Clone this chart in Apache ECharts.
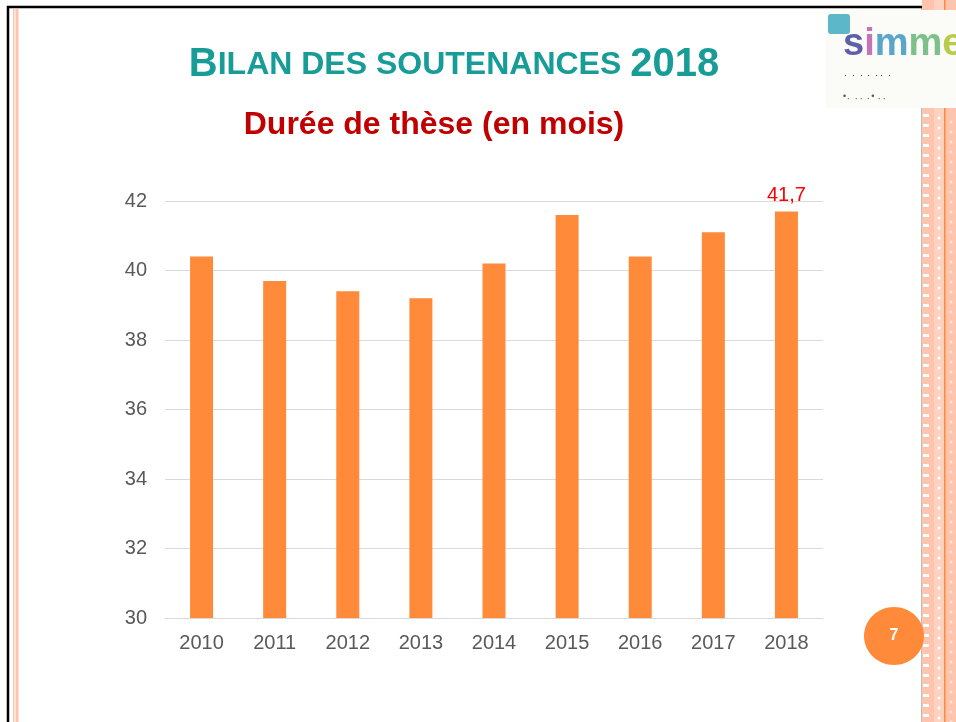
<!DOCTYPE html>
<html>
<head>
<meta charset="utf-8">
<script src="https://cdn.jsdelivr.net/npm/echarts@6/dist/echarts.min.js"></script>
<style>
  html, body { margin: 0; padding: 0; background: #fff; }
  #main { width: 956px; height: 722px; }
</style>
</head>
<body>
<div id="main"></div>
<script>
// données
var years = ['2010', '2011', '2012', '2013', '2014', '2015', '2016', '2017', '2018'];
var dureeMois = [40.4, 39.7, 39.4, 39.2, 40.2, 41.6, 40.4, 41.1, 41.7];
var yTicks = [30, 32, 34, 36, 38, 40, 42];

var chart = echarts.init(document.getElementById('main'));

// bande décorative à droite (pointillés)
var deco = [];
for (var y = 114; y < 722; y += 10) {
  deco.push({ type: 'rect', shape: { x: 923, y: y, width: 6, height: 3 }, style: { fill: '#fff' }, silent: true });
  deco.push({ type: 'circle', shape: { cx: 939, cy: y + 4, r: 1.5 }, style: { fill: '#fff' }, silent: true });
  deco.push({ type: 'circle', shape: { cx: 951, cy: y + 8, r: 1.5 }, style: { fill: '#ffe6d9' }, silent: true });
}

var option = {
  animation: false,
  backgroundColor: '#fff',
  title: [
    {
      text: '{b|B}{s|ILAN DES SOUTENANCES }{b|2018}',
      left: 449, top: 40, textAlign: 'center',
      textStyle: {
        rich: {
          b: { fontFamily: 'Liberation Sans', fontWeight: 'bold', fontSize: 40, color: '#179c97' },
          s: { fontFamily: 'Liberation Sans', fontWeight: 'bold', fontSize: 32, color: '#179c97' }
        }
      }
    },
    {
      text: 'Durée de thèse (en mois)',
      left: 429, top: 104, textAlign: 'center',
      textStyle: { fontFamily: 'Liberation Sans', fontWeight: 'bold', fontSize: 32, color: '#c00000' }
    }
  ],
  grid: { left: 165, right: 133, top: 201, bottom: 104, containLabel: false },
  xAxis: {
    type: 'category',
    data: years,
    axisLine: { lineStyle: { color: '#d9d9d9', width: 1 } },
    axisTick: { show: false },
    axisLabel: { color: '#595959', fontSize: 20, fontFamily: 'Liberation Sans', margin: 15 }
  },
  yAxis: {
    type: 'value',
    min: yTicks[0], max: yTicks[yTicks.length - 1], interval: 2,
    axisLine: { show: false },
    axisTick: { show: false },
    splitLine: { lineStyle: { color: '#d9d9d9' } },
    axisLabel: { color: '#595959', fontSize: 20, fontFamily: 'Liberation Sans', margin: 18 }
  },
  series: [{
    type: 'bar',
    data: dureeMois.map(function (v, i) {
      if (i === dureeMois.length - 1) {
        return {
          value: v,
          label: {
            show: true, position: 'top', distance: 6,
            formatter: function (p) { return String(p.value).replace('.', ','); },
            color: '#ff0000', fontSize: 20, fontFamily: 'Liberation Sans'
          }
        };
      }
      return v;
    }),
    barWidth: 23,
    itemStyle: { color: '#fe8a3a' }
  }],
  graphic: [
    // cadre noir
    { type: 'rect', shape: { x: 8, y: 7, width: 915, height: 720 }, style: { fill: 'none', stroke: '#000', lineWidth: 2.5 }, silent: true },
    // lignes roses à gauche
    { type: 'rect', shape: { x: 13, y: 9, width: 1.5, height: 713 }, style: { fill: '#ffc3ae' }, silent: true },
    { type: 'rect', shape: { x: 15.5, y: 9, width: 3, height: 713 }, style: { fill: '#ffc3ae' }, silent: true },
    // bande droite
    { type: 'rect', shape: { x: 922, y: 0, width: 34, height: 722 }, style: { fill: '#ffc4ae' }, silent: true },
    { type: 'rect', shape: { x: 934, y: 0, width: 10, height: 722 }, style: { fill: '#ffd2c0' }, silent: true },
    { type: 'rect', shape: { x: 944, y: 0, width: 1.5, height: 722 }, style: { fill: '#ff8a3a' }, silent: true }
  ].concat(deco).concat([
    // logo
    { type: 'rect', shape: { x: 826, y: 10, width: 130, height: 98 }, style: { fill: '#fbfbf8' }, silent: true },
    { type: 'rect', shape: { x: 828, y: 14, width: 22, height: 20, r: 3 }, style: { fill: '#5cb8c8' }, silent: true },
    {
      type: 'text', left: 843, top: 26,
      style: {
        rich: {
          a: { fontFamily: 'Liberation Sans', fontWeight: 'bold', fontSize: 38, fill: '#5d5fa8' },
          c: { fontFamily: 'Liberation Sans', fontWeight: 'bold', fontSize: 38, fill: '#c773b8' },
          d: { fontFamily: 'Liberation Sans', fontWeight: 'bold', fontSize: 38, fill: '#5aa6c8' },
          e: { fontFamily: 'Liberation Sans', fontWeight: 'bold', fontSize: 38, fill: '#7cc08a' },
          f: { fontFamily: 'Liberation Sans', fontWeight: 'bold', fontSize: 38, fill: '#b8cc4a' }
        },
        text: '{a|s}{c|i}{d|m}{e|m}{f|e}'
      },
      silent: true
    },
    { type: 'text', left: 843, top: 68, style: { text: '\u2024 \u2024 \u2024 \u2024 \u2024\u2024 \u2024', fontSize: 10, fill: '#555' }, silent: true },
    { type: 'text', left: 843, top: 92, style: { text: '\u2022\u2024 \u2024\u2024 \u2024\u2022 \u2024\u2024', fontSize: 9, fill: '#555' }, silent: true },
    // numéro de page
    { type: 'ellipse', shape: { cx: 894, cy: 636, rx: 30, ry: 29 }, style: { fill: '#fe8a3a' }, silent: true },
    { type: 'text', x: 894, y: 636, style: { text: '7', fontFamily: 'Liberation Sans', fontWeight: 'bold', fontSize: 16, fill: '#fff', align: 'center', verticalAlign: 'middle' }, silent: true }
  ])
};

chart.setOption(option);
</script>
</body>
</html>
